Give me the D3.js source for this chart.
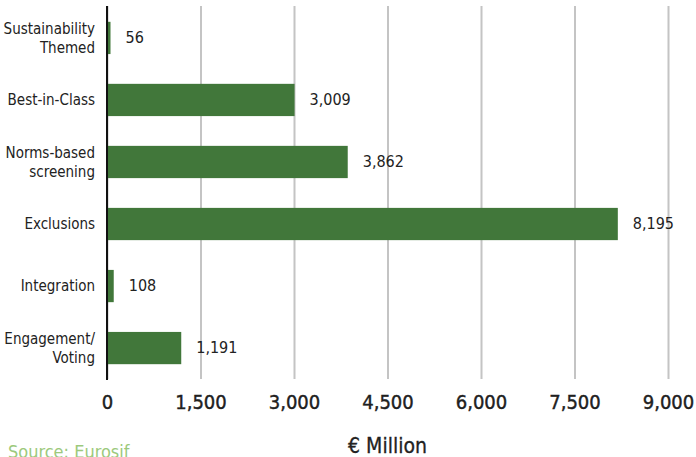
<!DOCTYPE html>
<html>
<head>
<meta charset="utf-8">
<script src="https://cdn.jsdelivr.net/npm/d3@7"></script>
<style>
  body { margin: 0; background: #fff; }
  svg text { font-family: "DejaVu Sans Condensed", "DejaVu Sans", sans-serif; font-stretch: condensed; fill: #222; }
</style>
</head>
<body>
<div id="chart-area"></div>
<script>
// data
var categories = ["Sustainability\nThemed", "Best-in-Class", "Norms-based\nscreening", "Exclusions", "Integration", "Engagement/\nVoting"];
var values = [56, 3009, 3862, 8195, 108, 1191];
var tickValues = [0, 1500, 3000, 4500, 6000, 7500, 9000];

var W = 696, H = 457;
var plot = { left: 107, right: 668, top: 6, bottom: 379 };

var svg = d3.select("#chart-area")
    .append("svg")
        .attr("width", W)
        .attr("height", H);

var x = d3.scaleLinear().domain([0, 9000]).range([plot.left, plot.right]);
var y = d3.scaleBand()
    .domain(categories)
    .range([plot.top, plot.bottom + 1])
    .paddingInner(0.48)
    .paddingOuter(0.255);

// gridlines + tick labels
var xAxis = d3.axisBottom(x)
    .tickValues(tickValues)
    .tickFormat(d3.format(","))
    .tickSizeInner(-(plot.bottom - plot.top))
    .tickSizeOuter(0)
    .tickPadding(16);

var xg = svg.append("g")
    .attr("transform", "translate(0," + plot.bottom + ")")
    .call(xAxis);
xg.select(".domain").remove();
xg.selectAll(".tick line").attr("stroke", "#c4c4c4").attr("stroke-width", 2);
xg.selectAll(".tick text")
    .attr("font-size", "20px")
    .attr("fill", "#1a1a1a")
    .attr("stroke", "#1a1a1a")
    .attr("stroke-width", 0.4);

// bars
svg.selectAll("rect.bar")
    .data(values)
    .enter()
    .append("rect")
        .attr("class", "bar")
        .attr("x", x(0))
        .attr("y", function(d, i){ return y(categories[i]); })
        .attr("width", function(d){ return x(d) - x(0); })
        .attr("height", y.bandwidth())
        .attr("fill", "#41773a");

// value labels
svg.selectAll("text.val")
    .data(values)
    .enter()
    .append("text")
        .attr("class", "val")
        .attr("x", function(d){ return x(d) + 15; })
        .attr("y", function(d, i){ return y(categories[i]) + y.bandwidth() / 2 - 1; })
        .attr("dy", "0.35em")
        .attr("font-size", "16px")
        .text(d3.format(","));

// y axis line
svg.append("line")
    .attr("x1", x(0)).attr("x2", x(0))
    .attr("y1", plot.top).attr("y2", plot.bottom + 1)
    .attr("stroke", "#111")
    .attr("stroke-width", 2);

// category labels
var lineH = 19;
svg.selectAll("text.cat")
    .data(categories)
    .enter()
    .append("text")
        .attr("class", "cat")
        .attr("text-anchor", "end")
        .attr("font-size", "15px")
        .each(function(d){
            var lines = d.split("\n");
            var cy = y(d) + y.bandwidth() / 2;
            var t = d3.select(this);
            lines.forEach(function(l, j){
                t.append("tspan")
                    .attr("x", plot.left - 12)
                    .attr("y", cy + (j - (lines.length - 1) / 2) * lineH)
                    .attr("dy", "0.35em")
                    .text(l);
            });
        });

// axis title
svg.append("text")
    .attr("x", (plot.left + plot.right) / 2)
    .attr("y", 453)
    .attr("text-anchor", "middle")
    .attr("font-size", "21px")
    .attr("stroke", "#222")
    .attr("stroke-width", 0.3)
    .text("€ Million");

// source
svg.append("text")
    .attr("x", 8)
    .attr("y", 458)
    .attr("font-size", "18px")
    .style("fill", "#9cc97c")
    .text("Source: Eurosif");
</script>
</body>
</html>
